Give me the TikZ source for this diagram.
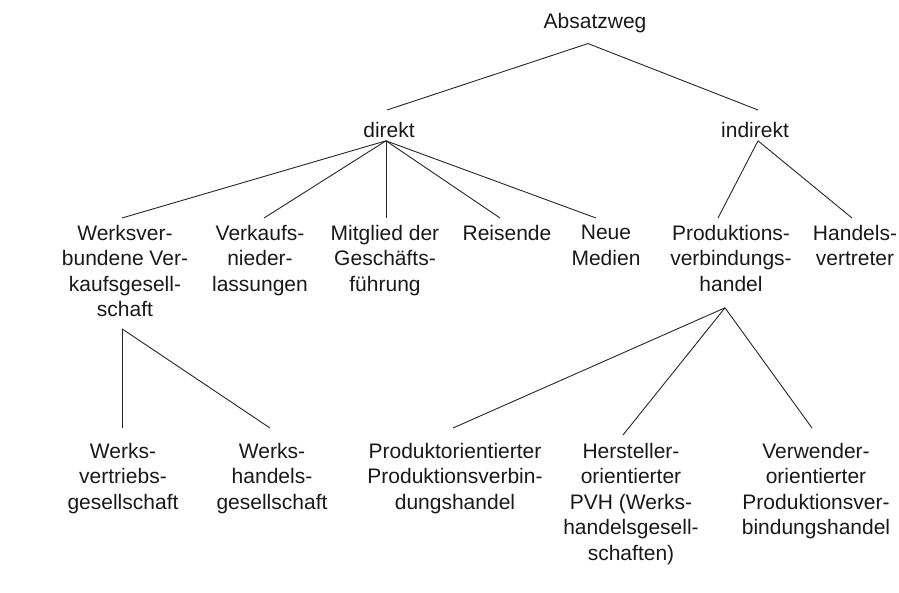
\documentclass[tikz,border=0pt]{standalone}
\usepackage{fontspec}
\setmainfont{Liberation Sans}
\tikzset{
  item/.style={
    anchor=north,
    inner sep=0pt,
    align=center,
    font=\fontsize{21}{25.5}\selectfont,
    text=black!90
  },
  link/.style={draw=black!85, line width=0.9pt}
}

\begin{document}
\begin{tikzpicture}[x=1pt,y=-1pt]
\useasboundingbox (0,0) rectangle (899,593);

% root and first split
\node[item] (absatz) at (595,13) {Absatzweg};
\node[item] (direkt) at (389,122) {direkt};
\node[item] (indirekt) at (755,122) {indirekt};

\draw[link] ([xshift=-7pt,yshift=-10.6pt]absatz.south) -- ([xshift=-2pt,yshift=12pt]direkt.north);
\draw[link] ([xshift=-7pt,yshift=-10.6pt]absatz.south) -- ([xshift=3pt,yshift=12pt]indirekt.north);

% direct channels
\node[item] (werksver) at (125,225) {Werksver-\\bundene Ver-\\kaufsgesell-\\schaft};
\node[item] (verkauf) at (260,225) {Verkaufs-\\nieder-\\lassungen};
\node[item] (mitglied) at (385,225) {Mitglied der\\Geschäfts-\\führung};
\node[item] (reisende) at (507,225) {Reisende};
\node[item] (medien) at (606,225) {Neue\\Medien};

\draw[link] ([xshift=-3pt,yshift=-3pt]direkt.south) -- ([xshift=-3pt,yshift=7pt]werksver.north);
\draw[link] ([xshift=-3pt,yshift=-3pt]direkt.south) -- ([xshift=4pt,yshift=7pt]verkauf.north);
\draw[link] ([xshift=-3pt,yshift=-3pt]direkt.south) -- ([xshift=1pt,yshift=7pt]mitglied.north);
\draw[link] ([xshift=-3pt,yshift=-3pt]direkt.south) -- ([xshift=-7pt,yshift=7pt]reisende.north);
\draw[link] ([xshift=-3pt,yshift=-3pt]direkt.south) -- ([xshift=-10pt,yshift=7pt]medien.north);

% indirect channels
\node[item] (pvh) at (731,225) {Produktions-\\verbindungs-\\handel};
\node[item] (vertreter) at (855,225) {Handels-\\vertreter};

\draw[link] ([xshift=3pt,yshift=-3pt]indirekt.south) -- ([xshift=-13pt,yshift=7pt]pvh.north);
\draw[link] ([xshift=3pt,yshift=-3pt]indirekt.south) -- ([xshift=-3pt,yshift=7pt]vertreter.north);

% company-owned sales
\node[item] (vertrieb) at (123,443) {Werks-\\vertriebs-\\gesellschaft};
\node[item] (whandel) at (272,443) {Werks-\\handels-\\gesellschaft};

\draw[link] ([xshift=-3pt,yshift=-11.5pt]werksver.south) -- ([xshift=-1pt,yshift=15pt]vertrieb.north);
\draw[link] ([xshift=-3pt,yshift=-11.5pt]werksver.south) -- ([xshift=-2pt,yshift=15pt]whandel.north);

% kinds of PVH
\node[item] (produkt) at (455,443) {Produktorientierter\\Produktionsverbin-\\dungshandel};
\node[item] (hersteller) at (631,443) {Hersteller-\\orientierter\\PVH (Werks-\\handelsgesell-\\schaften)};
\node[item] (verwender) at (816,443) {Verwender-\\orientierter\\Produktionsver-\\bindungshandel};

\draw[link] ([xshift=-6pt,yshift=-16pt]pvh.south) -- ([xshift=-2pt,yshift=15pt]produkt.north);
\draw[link] ([xshift=-6pt,yshift=-16pt]pvh.south) -- ([xshift=-8pt,yshift=8pt]hersteller.north);
\draw[link] ([xshift=-6pt,yshift=-16pt]pvh.south) -- ([xshift=-4pt,yshift=15pt]verwender.north);

\end{tikzpicture}
\end{document}
